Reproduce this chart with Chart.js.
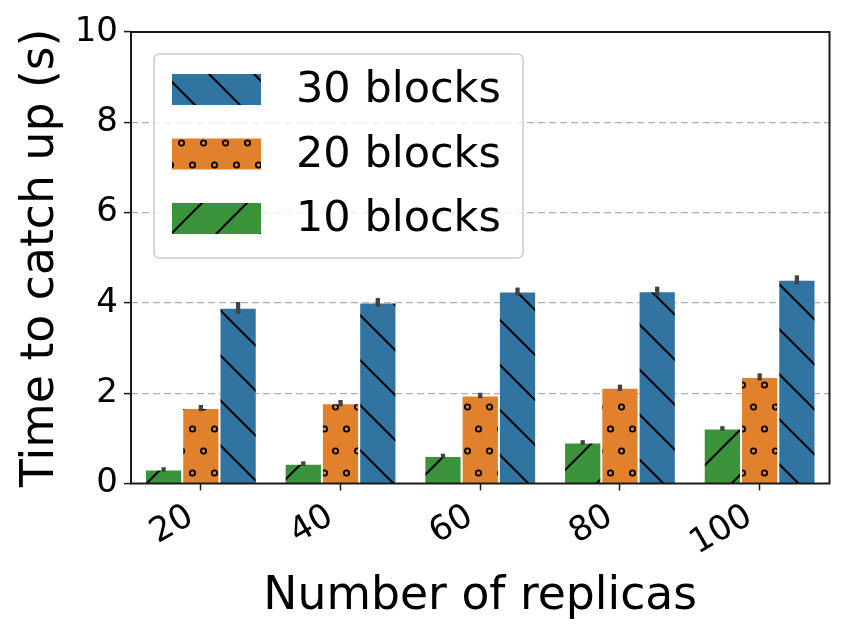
<!DOCTYPE html>
<html>
<head>
<meta charset="utf-8">
<script src="https://cdn.jsdelivr.net/npm/chart.js@4"></script>
<style>
  html, body { margin: 0; padding: 0; background: #fff; }
  #wrap { width: 849px; height: 637px; }
</style>
</head>
<body>
<div id="wrap"><canvas id="chart" width="849" height="637"></canvas></div>
<script>
const replicas = ["20", "40", "60", "80", "100"];
const blocks10 = [0.31, 0.44, 0.61, 0.91, 1.22];
const blocks20 = [1.67, 1.78, 1.95, 2.12, 2.36];
const blocks30 = [3.89, 4.01, 4.25, 4.26, 4.51];
const err10 = [0.05, 0.05, 0.05, 0.05, 0.05];
const err20 = [0.07, 0.07, 0.06, 0.07, 0.08];
const err30 = [0.13, 0.1, 0.09, 0.1, 0.1];
const yTicks = [0, 2, 4, 6, 8, 10];

const FONT = "'DejaVu Sans', sans-serif";

// hatch patterns, tiled from the canvas origin
function hatchPattern(color, kind) {
  const c = document.createElement("canvas");
  const ctx = c.getContext("2d");
  if (kind === "o") {
    c.width = 22; c.height = 44;
    ctx.fillStyle = color;
    ctx.fillRect(0, 0, 22, 44);
    ctx.strokeStyle = "#000";
    ctx.lineWidth = 1.8;
    [[5.5, 11], [16.5, 33]].forEach(([x, y]) => {
      ctx.beginPath();
      ctx.arc(x, y, 2.7, 0, Math.PI * 2);
      ctx.stroke();
    });
  } else {
    const s = 45;
    c.width = s; c.height = s;
    ctx.fillStyle = color;
    ctx.fillRect(0, 0, s, s);
    ctx.strokeStyle = "#000";
    ctx.lineWidth = 2;
    ctx.beginPath();
    if (kind === "\\") {
      ctx.moveTo(-5, -5); ctx.lineTo(s + 5, s + 5);
      ctx.moveTo(-5, s - 5); ctx.lineTo(5, s + 5);
      ctx.moveTo(s - 5, -5); ctx.lineTo(s + 5, 5);
    } else {
      ctx.moveTo(-5, s + 5); ctx.lineTo(s + 5, -5);
      ctx.moveTo(-5, 5); ctx.lineTo(5, -5);
      ctx.moveTo(s - 5, s + 5); ctx.lineTo(s + 5, s - 5);
    }
    ctx.stroke();
  }
  return ctx.createPattern(c, "repeat");
}

const blue = "#3274a1", orange = "#e1812c", green = "#3a923a";
const patGreen = hatchPattern(green, "/");
const patOrange = hatchPattern(orange, "o");
const patBlue = hatchPattern(blue, "\\");

const errors = [err10, err20, err30];

const errorBars = {
  id: "errorBars",
  afterDatasetsDraw(chart) {
    const ctx = chart.ctx;
    const y = chart.scales.y;
    ctx.save();
    ctx.strokeStyle = "#424242";
    ctx.lineWidth = 4.3;
    chart.data.datasets.forEach((ds, i) => {
      chart.getDatasetMeta(i).data.forEach((bar, j) => {
        const v = ds.data[j], e = errors[i][j];
        ctx.beginPath();
        ctx.moveTo(bar.x, y.getPixelForValue(v - e));
        ctx.lineTo(bar.x, y.getPixelForValue(v + e));
        ctx.stroke();
      });
    });
    ctx.restore();
  }
};

const frameAndLegend = {
  id: "frameAndLegend",
  afterDraw(chart) {
    const ctx = chart.ctx;
    const a = chart.chartArea;
    ctx.save();
    ctx.strokeStyle = "#1a1a1a";
    ctx.lineWidth = 2;
    ctx.strokeRect(a.left, a.top, a.right - a.left, a.bottom - a.top);

    // legend box
    const bx = 154, by = 54, bw = 369, bh = 204, r = 5;
    ctx.beginPath();
    ctx.roundRect(bx, by, bw, bh, r);
    ctx.fillStyle = "rgba(255,255,255,0.8)";
    ctx.fill();
    ctx.strokeStyle = "#cccccc";
    ctx.lineWidth = 1.5;
    ctx.stroke();

    const items = [
      { label: "30 blocks", fill: patBlue },
      { label: "20 blocks", fill: patOrange },
      { label: "10 blocks", fill: patGreen }
    ];
    ctx.font = "43px " + FONT;
    ctx.textBaseline = "middle";
    items.forEach((it, k) => {
      const py = 74 + k * 64.5;
      ctx.fillStyle = it.fill;
      ctx.fillRect(172, py, 89, 31);
      ctx.fillStyle = "#000";
      ctx.fillText(it.label, 296, py + 17);
    });
    ctx.restore();
  }
};

new Chart(document.getElementById("chart"), {
  type: "bar",
  data: {
    labels: replicas,
    datasets: [
      { label: "10 blocks", data: blocks10, backgroundColor: patGreen },
      { label: "20 blocks", data: blocks20, backgroundColor: patOrange },
      { label: "30 blocks", data: blocks30, backgroundColor: patBlue }
    ].map((d) => Object.assign(d, {
      borderColor: "rgba(255,255,255,0.45)",
      borderWidth: 1,
      categoryPercentage: 0.8,
      barPercentage: 1
    }))
  },
  options: {
    responsive: false,
    animation: false,
    devicePixelRatio: 1,
    layout: { padding: { top: 32, right: 19.5, left: 0, bottom: 0 } },
    plugins: {
      legend: { display: false },
      tooltip: { enabled: false }
    },
    scales: {
      x: {
        offset: true,
        grid: {
          offset: false,
          drawOnChartArea: false,
          drawTicks: true,
          tickLength: 7,
          tickColor: "#1a1a1a",
          tickWidth: 1.5
        },
        border: { display: false },
        ticks: {
          color: "#000",
          font: { family: FONT, size: 34 },
          minRotation: 30,
          maxRotation: 30,
          padding: 6,
          labelOffset: -10
        },
        title: {
          display: true,
          text: "Number of replicas",
          color: "#000",
          font: { family: FONT, size: 45.7 },
          padding: { top: 0, bottom: 12 }
        },
        afterFit: (s) => { s.height = 153.5; }
      },
      y: {
        min: 0,
        max: 10,
        afterBuildTicks: (s) => { s.ticks = yTicks.map((v) => ({ value: v })); },
        grid: {
          color: (c) => (c.tick && (c.tick.value === 0 || c.tick.value === 10)) ? "rgba(0,0,0,0)" : "#b0b0b0",
          lineWidth: 1.2,
          drawTicks: true,
          tickLength: 7,
          tickColor: "#1a1a1a",
          tickWidth: 1.5,
          tickBorderDash: []
        },
        border: { display: false, dash: [7, 4] },
        ticks: {
          color: "#000",
          font: { family: FONT, size: 34 },
          padding: 6
        },
        title: {
          display: true,
          text: "Time to catch up (s)",
          color: "#000",
          font: { family: FONT, size: 45.7 },
          padding: { top: 14, bottom: 0 }
        },
        afterFit: (s) => { s.width = 131; }
      }
    }
  },
  plugins: [errorBars, frameAndLegend]
});
</script>
</body>
</html>
